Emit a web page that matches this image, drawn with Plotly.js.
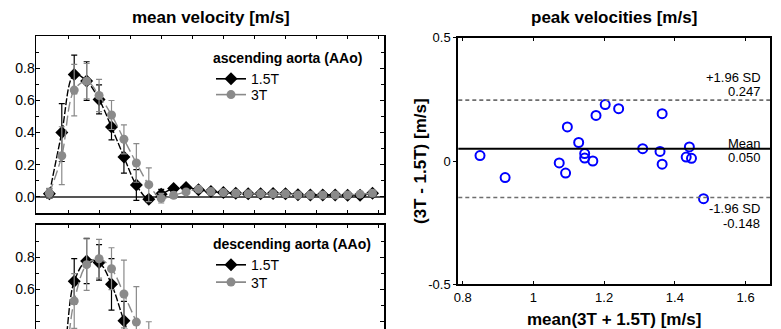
<!DOCTYPE html>
<html>
<head>
<meta charset="utf-8">
<script src="https://cdn.plot.ly/plotly-3.0.1.min.js"></script>
<style>
html,body{margin:0;padding:0;background:#fff;}
#chart{width:781px;height:329px;}
</style>
</head>
<body>
<div id="chart"></div>
<script>
// ---- data ----
const timeMs = [40, 80, 120, 160, 200, 240, 280, 320, 360, 400, 440, 480, 520, 560, 600, 640, 680, 720, 760, 800, 840, 880, 920, 960, 1000, 1040, 1080];
const timeTicks = [100, 200, 300, 400, 500, 600, 700, 800, 900, 1000, 1100];

// ascending aorta
const asc15 = [0.020, 0.400, 0.761, 0.720, 0.606, 0.434, 0.248, 0.074, -0.014, 0.017, 0.052, 0.058, 0.045, 0.033, 0.027, 0.023, 0.020, 0.020, 0.021, 0.020, 0.014, 0.012, 0.012, 0.012, 0.010, 0.011, 0.023];
const asc15Err = [0.030, 0.180, 0.120, 0.120, 0.090, 0.080, 0.100, 0.095, 0.020, 0.030, 0.015, 0.012, 0.010, 0.010, 0.008, 0.008, 0.008, 0.008, 0.008, 0.008, 0.008, 0.008, 0.008, 0.008, 0.008, 0.008, 0.008];
const asc3 = [0.023, 0.256, 0.664, 0.719, 0.630, 0.509, 0.358, 0.211, 0.076, -0.008, 0.010, 0.031, 0.048, 0.033, 0.027, 0.023, 0.019, 0.019, 0.019, 0.019, 0.012, 0.012, 0.012, 0.012, 0.012, 0.017, 0.023];
const asc3Err = [0.030, 0.180, 0.160, 0.110, 0.100, 0.090, 0.090, 0.120, 0.105, 0.030, 0.020, 0.015, 0.010, 0.010, 0.008, 0.008, 0.008, 0.008, 0.008, 0.008, 0.008, 0.008, 0.008, 0.008, 0.008, 0.008, 0.008];

// descending aorta
const desc15 = [0.020, 0.150, 0.651, 0.777, 0.768, 0.632, 0.406, 0.200, 0.050, -0.010, 0.020, 0.030, 0.030, 0.025, 0.020, 0.020, 0.018, 0.015, 0.015, 0.012, 0.012, 0.010, 0.010, 0.010, 0.010, 0.012, 0.015];
const desc15Err = [0.030, 0.100, 0.140, 0.140, 0.110, 0.160, 0.120, 0.120, 0.080, 0.040, 0.020, 0.015, 0.012, 0.010, 0.010, 0.010, 0.010, 0.010, 0.010, 0.010, 0.010, 0.010, 0.010, 0.010, 0.010, 0.010, 0.010];
const desc3 = [0.020, 0.100, 0.529, 0.754, 0.791, 0.729, 0.572, 0.398, 0.220, 0.080, 0.020, 0.010, 0.025, 0.025, 0.020, 0.020, 0.018, 0.015, 0.015, 0.012, 0.012, 0.010, 0.010, 0.010, 0.010, 0.012, 0.015];
const desc3Err = [0.030, 0.120, 0.170, 0.160, 0.120, 0.130, 0.210, 0.220, 0.180, 0.100, 0.030, 0.015, 0.012, 0.010, 0.010, 0.010, 0.010, 0.010, 0.010, 0.010, 0.010, 0.010, 0.010, 0.010, 0.010, 0.010, 0.010];

const velTicks = [0.0, 0.2, 0.4, 0.6, 0.8];
const velMinorTicks = [-0.1, 0.1, 0.3, 0.5, 0.7, 0.9];

// Bland-Altman (peak velocities)
const baMean = [0.849, 0.920, 1.073, 1.091, 1.096, 1.128, 1.145, 1.145, 1.168, 1.177, 1.203, 1.241, 1.309, 1.358, 1.364, 1.364, 1.432, 1.441, 1.447, 1.481];
const baDiff = [0.022, -0.067, -0.008, -0.049, 0.138, 0.075, 0.030, 0.012, 0.000, 0.185, 0.229, 0.212, 0.050, 0.039, 0.192, -0.013, 0.016, 0.057, 0.011, -0.153];
const meanDiff = 0.050;
const upperLoA = 0.247;
const lowerLoA = -0.148;
const baXTicks = [0.8, 1, 1.2, 1.4, 1.6];
const baXTickText = ['0.8', '1', '1.2', '1.4', '1.6'];
const baYTicks = [-0.5, 0, 0.5];
const baYTickText = ['-0.5', '0', '0.5'];

// ---- styles ----
const FONT = 'Liberation Sans, Arial, Helvetica, sans-serif';
const BLACK = '#000000';
const GRAY = '#8a8a8a';

function series(x, y, err, color, symbol, size, dash, xa, ya) {
  return {
    type: 'scatter', mode: 'lines+markers', x: x, y: y,
    xaxis: xa, yaxis: ya, showlegend: false, hoverinfo: 'skip',
    line: {color: color, width: 1.4, dash: dash, shape: 'spline', smoothing: 1},
    marker: {symbol: symbol, size: size, color: color},
    error_y: {type: 'data', array: err, visible: true, color: color, thickness: 1.2, width: 3}
  };
}
function legendItem(name, color, symbol, size, xa, ya, leg) {
  return {
    type: 'scatter', mode: 'lines+markers', x: [null], y: [null], name: name,
    xaxis: xa, yaxis: ya, legend: leg, showlegend: true,
    line: {color: color, width: 1.6}, marker: {symbol: symbol, size: size, color: color}
  };
}

const traces = [
  series(timeMs, asc15, asc15Err, BLACK, 'diamond', 10, '7px,2px', 'x', 'y'),
  series(timeMs, asc3, asc3Err, GRAY, 'circle', 9, '10px,4px', 'x', 'y'),
  legendItem('1.5T', BLACK, 'diamond', 10, 'x', 'y', 'legend'),
  legendItem('3T', GRAY, 'circle', 9, 'x', 'y', 'legend2'),
  series(timeMs, desc15, desc15Err, BLACK, 'diamond', 10, '7px,2px', 'x3', 'y3'),
  series(timeMs, desc3, desc3Err, GRAY, 'circle', 9, '10px,4px', 'x3', 'y3'),
  legendItem('1.5T', BLACK, 'diamond', 10, 'x3', 'y3', 'legend3'),
  legendItem('3T', GRAY, 'circle', 9, 'x3', 'y3', 'legend4'),
  {
    type: 'scatter', mode: 'markers', x: baMean, y: baDiff, xaxis: 'x4', yaxis: 'y4',
    showlegend: false, hoverinfo: 'skip',
    marker: {symbol: 'circle-open', size: 9, color: '#0000ff', line: {width: 2, color: '#0000ff'}}
  }
];

const W = 781, H = 329;
const px = v => v / W;
const py = v => 1 - v / H;

const tickFontL = {family: FONT, size: 14, color: '#000'};
const leftX = [px(36), px(384.3)];

function legendBox(top, title) {
  const l = {
    x: px(211), xanchor: 'left', y: py(top), yanchor: 'top',
    bgcolor: 'rgba(0,0,0,0)', borderwidth: 0,
    font: {family: FONT, size: 14, color: '#000'},
    tracegroupgap: 0
  };
  if (title) l.title = {text: title, side: 'top', font: {family: FONT, size: 14, weight: 'bold', color: '#000'}};
  return l;
}

const layout = {
  width: W, height: H,
  margin: {l: 0, r: 0, t: 0, b: 0},
  paper_bgcolor: '#fff', plot_bgcolor: 'rgba(0,0,0,0)',
  font: {family: FONT, size: 14, color: '#000'},
  xaxis: {
    domain: leftX, anchor: 'y', range: [-3, 1118],
    tickvals: timeTicks, showticklabels: false, ticks: 'inside', ticklen: 3, tickcolor: '#000',
    showline: true, linecolor: '#000', linewidth: 1.5, mirror: 'ticks',
    showgrid: false, zeroline: false
  },
  yaxis: {
    domain: [py(213), py(36)], anchor: 'x', range: [-0.1, 1.0],
    tickvals: velTicks, tickformat: '.1f', ticks: 'inside', ticklen: 4, tickcolor: '#000',
    tickfont: tickFontL, ticklabelstandoff: -3,
    minor: {tickvals: velMinorTicks, ticks: 'inside', ticklen: 3, tickcolor: '#000'},
    showline: true, linecolor: '#000', linewidth: 1.5, mirror: 'ticks',
    showgrid: false, zeroline: true, zerolinecolor: '#555', zerolinewidth: 2
  },
  xaxis3: {
    domain: leftX, anchor: 'y3', side: 'top', range: [-3, 1118],
    tickvals: timeTicks, showticklabels: false, ticks: 'inside', ticklen: 3, tickcolor: '#000',
    showline: true, linecolor: '#000', linewidth: 2.5, mirror: false,
    showgrid: false, zeroline: false
  },
  yaxis3: {
    domain: [0, py(225)], anchor: 'x3', range: [0.355, 1.0],
    tickvals: velTicks, tickformat: '.1f', ticks: 'inside', ticklen: 4, tickcolor: '#000',
    tickfont: tickFontL, ticklabelstandoff: -3,
    minor: {tickvals: velMinorTicks, ticks: 'inside', ticklen: 3, tickcolor: '#000'},
    showline: true, linecolor: '#000', linewidth: 1.5, mirror: 'ticks',
    showgrid: false, zeroline: false
  },
  xaxis4: {
    domain: [px(458.3), px(770)], anchor: 'y4', range: [0.7876, 1.669],
    tickvals: baXTicks, ticktext: baXTickText, ticks: 'inside', ticklen: 3, tickcolor: '#000',
    tickfont: {family: FONT, size: 13, color: '#000'},
    showline: true, linecolor: '#000', linewidth: 2, mirror: 'ticks',
    showgrid: false, zeroline: false
  },
  yaxis4: {
    domain: [py(284.3), py(37.7)], anchor: 'x4', range: [-0.5, 0.5],
    tickvals: baYTicks, ticktext: baYTickText, ticks: 'outside', ticklen: 3, tickcolor: '#000',
    tickfont: {family: FONT, size: 13, color: '#000'},
    showline: true, linecolor: '#000', linewidth: 2, mirror: true,
    showgrid: false, zeroline: false
  },
  legend: legendBox(45, 'ascending aorta (AAo)'),
  legend2: legendBox(79, null),
  legend3: legendBox(231, 'descending aorta (AAo)'),
  legend4: legendBox(266.5, null),
  shapes: [
    {type: 'line', xref: 'x4 domain', yref: 'y4', x0: 0, x1: 1, y0: upperLoA, y1: upperLoA,
     line: {color: '#6e6e6e', width: 1.6, dash: '4px,3px'}},
    {type: 'line', xref: 'x4 domain', yref: 'y4', x0: 0, x1: 1, y0: lowerLoA, y1: lowerLoA,
     line: {color: '#6e6e6e', width: 1.6, dash: '4px,3px'}},
    {type: 'line', xref: 'x4 domain', yref: 'y4', x0: 0, x1: 1, y0: meanDiff, y1: meanDiff,
     line: {color: '#000', width: 2}}
  ],
  annotations: [
    {text: 'mean velocity [m/s]', xref: 'paper', yref: 'paper', x: px(211), y: py(18),
     xanchor: 'center', yanchor: 'middle', showarrow: false,
     font: {family: FONT, size: 17, weight: 'bold', color: '#000'}},
    {text: 'peak velocities [m/s]', xref: 'paper', yref: 'paper', x: px(614), y: py(18),
     xanchor: 'center', yanchor: 'middle', showarrow: false,
     font: {family: FONT, size: 17, weight: 'bold', color: '#000'}},
    {text: 'mean(3T + 1.5T) [m/s]', xref: 'paper', yref: 'paper', x: px(614), y: py(319),
     xanchor: 'center', yanchor: 'middle', showarrow: false,
     font: {family: FONT, size: 17, weight: 'bold', color: '#000'}},
    {text: '(3T - 1.5T) [m/s]', xref: 'paper', yref: 'paper', x: px(421), y: py(161),
     xanchor: 'center', yanchor: 'middle', showarrow: false, textangle: -90,
     font: {family: FONT, size: 17, weight: 'bold', color: '#000'}},
    {text: '+1.96 SD', xref: 'paper', yref: 'paper', x: px(763), y: py(77),
     xanchor: 'right', yanchor: 'middle', showarrow: false, font: {family: FONT, size: 13, color: '#000'}},
    {text: upperLoA.toFixed(3), xref: 'paper', yref: 'paper', x: px(763), y: py(92),
     xanchor: 'right', yanchor: 'middle', showarrow: false, font: {family: FONT, size: 13, color: '#000'}},
    {text: 'Mean', xref: 'paper', yref: 'paper', x: px(763), y: py(143),
     xanchor: 'right', yanchor: 'middle', showarrow: false, font: {family: FONT, size: 13, color: '#000'}},
    {text: meanDiff.toFixed(3), xref: 'paper', yref: 'paper', x: px(763), y: py(157),
     xanchor: 'right', yanchor: 'middle', showarrow: false, font: {family: FONT, size: 13, color: '#000'}},
    {text: '-1.96 SD', xref: 'paper', yref: 'paper', x: px(762), y: py(208),
     xanchor: 'right', yanchor: 'middle', showarrow: false, font: {family: FONT, size: 13, color: '#000'}},
    {text: lowerLoA.toFixed(3), xref: 'paper', yref: 'paper', x: px(762), y: py(223),
     xanchor: 'right', yanchor: 'middle', showarrow: false, font: {family: FONT, size: 13, color: '#000'}}
  ]
};

Plotly.newPlot('chart', traces, layout, {staticPlot: true, displayModeBar: false});
</script>
</body>
</html>
